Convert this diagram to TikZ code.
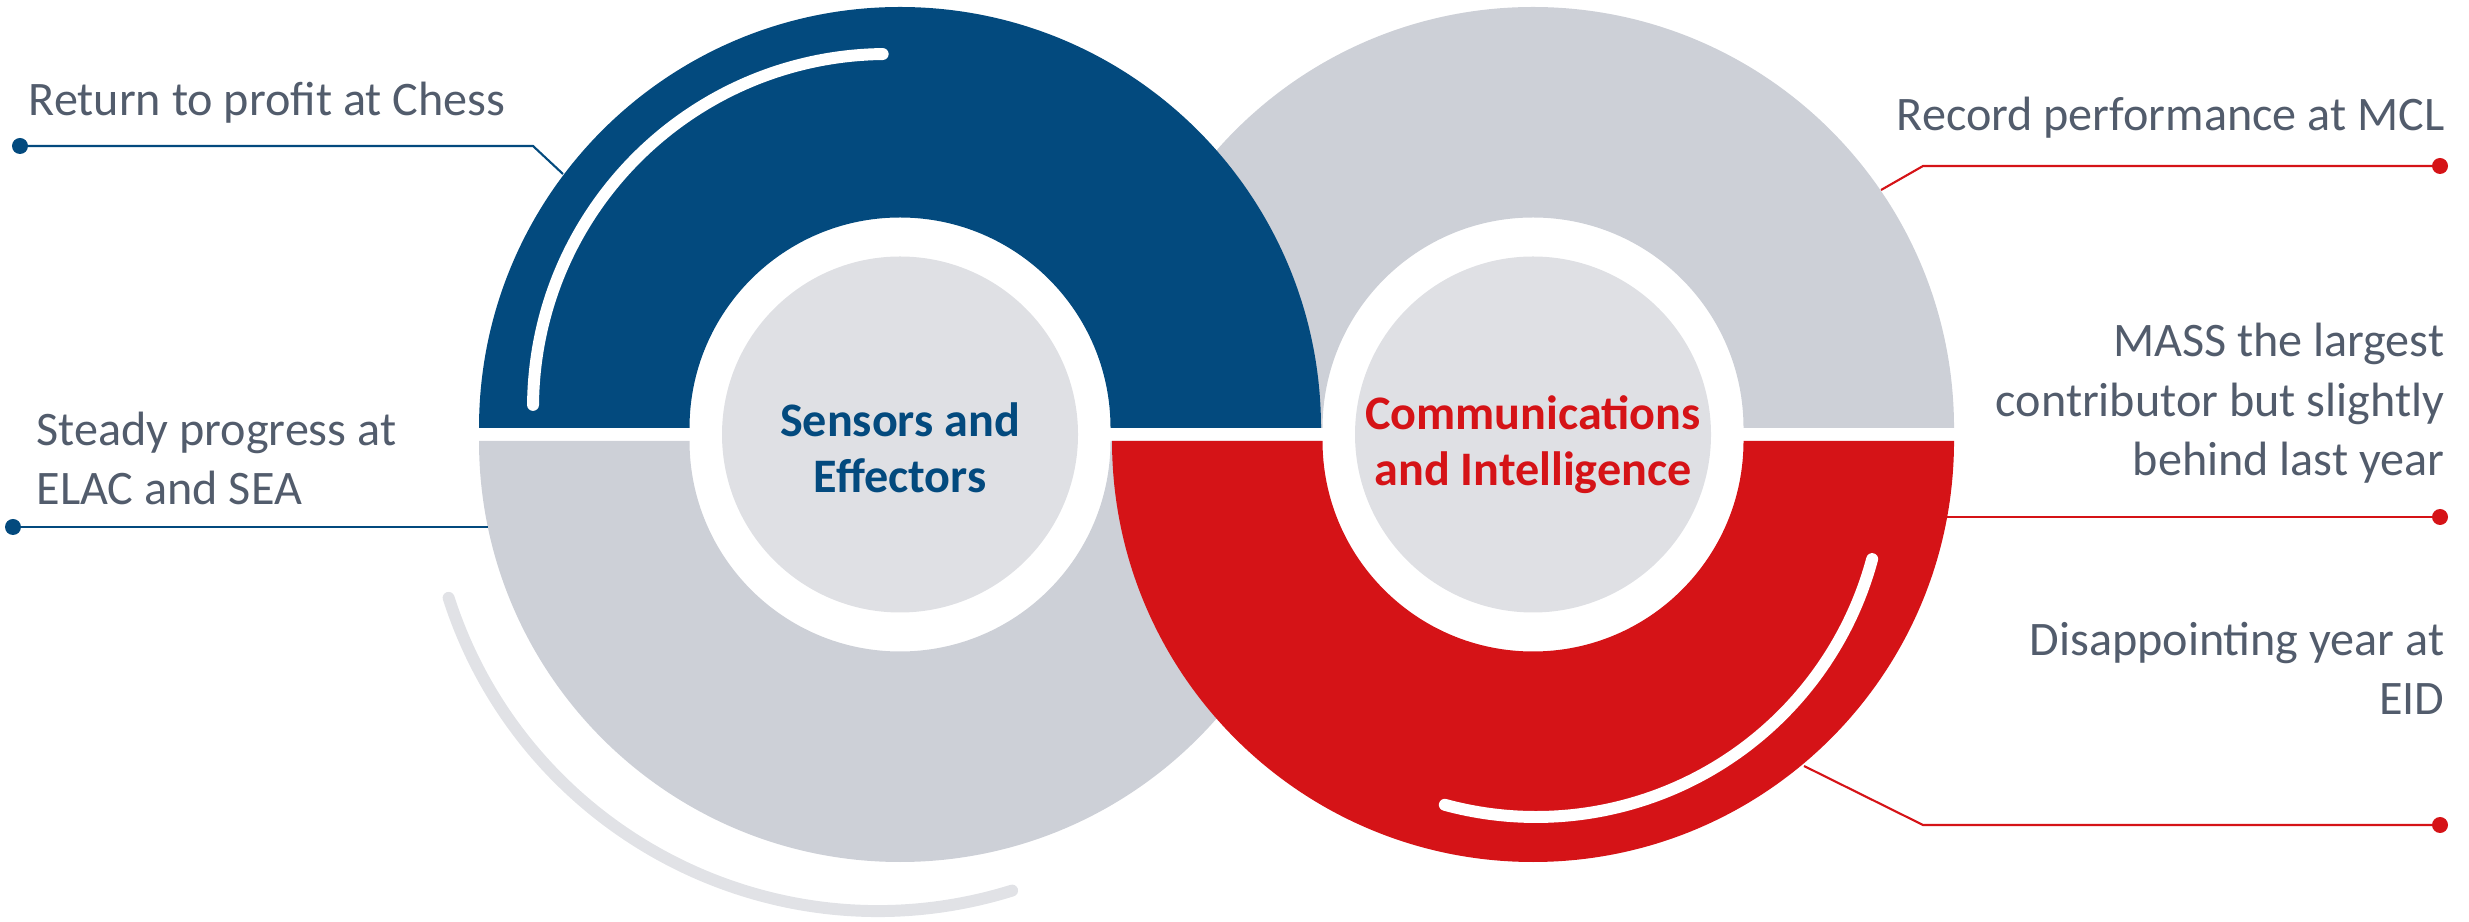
\documentclass[tikz,border=0pt]{standalone}
\usepackage{fontspec}
\setmainfont{Carlito}
\usetikzlibrary{calc}
\tikzset{
  label text/.style={font=\fontsize{13.7}{17}\selectfont, text=labelgrey, inner sep=0pt},
  core text/.style={font=\bfseries\fontsize{13.7}{15.9}\selectfont, align=center, inner sep=0pt},
  pin dot/.style={circle, inner sep=0pt, minimum size=1.6mm},
  pin line/.style={line width=0.6pt},
  swoosh/.style={line width=3.4pt, line cap=round},
}

\begin{document}
\begin{tikzpicture}
      \definecolor{sensblue}{RGB}{3,74,126}
      \definecolor{commred}{RGB}{213,19,23}
      \definecolor{ringgrey}{RGB}{205,208,215}
      \definecolor{coregrey}{RGB}{223,224,228}
      \definecolor{swooshgrey}{RGB}{225,226,230}
      \definecolor{labelgrey}{RGB}{82,92,108}
\useasboundingbox (0,0) rectangle (24.69,9.21);

% Centres of the two rings; upper and lower halves are pulled apart
% a little so that a thin white gap runs across both rings
\coordinate (seTop) at (9.00,4.93);
\coordinate (seBot) at (9.00,4.80);
\coordinate (ciTop) at (15.33,4.93);
\coordinate (ciBot) at (15.33,4.80);

% Grey halves first, the coloured halves are laid over them
\draw [draw=none, fill=ringgrey] ([shift={(180:4.21)}]seBot) arc[start angle=180, end angle=360, radius=4.21]
  -- ([shift={(0:2.105)}]seBot) arc[start angle=0, end angle=-180, radius=2.105] -- cycle;
\draw [draw=none, fill=ringgrey] ([shift={(180:4.21)}]ciTop) arc[start angle=180, end angle=0, radius=4.21]
  -- ([shift={(0:2.105)}]ciTop) arc[start angle=0, end angle=180, radius=2.105] -- cycle;

% Sensors and Effectors: upper half in blue
\draw [draw=none, fill=sensblue] ([shift={(180:4.21)}]seTop) arc[start angle=180, end angle=0, radius=4.21]
  -- ([shift={(0:2.105)}]seTop) arc[start angle=0, end angle=180, radius=2.105] -- cycle;
% Communications and Intelligence: lower half in red
\draw [draw=none, fill=commred] ([shift={(180:4.21)}]ciBot) arc[start angle=180, end angle=360, radius=4.21]
  -- ([shift={(0:2.105)}]ciBot) arc[start angle=0, end angle=-180, radius=2.105] -- cycle;

% Light core discs
\fill [coregrey] (9.00,4.865) circle (1.78);
\fill [coregrey] (15.33,4.865) circle (1.78);
\node [core text, text=sensblue] (sensors) at (9.00,4.73) {Sensors and\\Effectors};
\node [core text, text=commred] (comms) at (15.33,4.76) {Communications\\and Intelligence};

% Swooshes
\draw [swoosh, white] (8.87,5.13) ++(179.5:3.54) arc[start angle=179.5, end angle=90.7, radius=3.54];
\draw [swoosh, white] (15.36,4.52) ++(254.8:3.48) arc[start angle=254.8, end angle=345, radius=3.48];
\draw [swoosh, swooshgrey] (8.78,4.61) ++(197.8:4.51) arc[start angle=197.8, end angle=287.3, radius=4.51];

% Labels on the left (base of a multi-line node is its last line)
\node [label text, anchor=base west] (chess) at (0.28,8.05) {Return to profit at Chess};
\node [label text, anchor=base west, align=left] (elac) at (0.36,4.16) {Steady progress at\\ELAC and SEA};
% Labels on the right
\node [label text, anchor=base east] (mcl) at (24.45,7.90) {Record performance at MCL};
\node [label text, anchor=base east, align=right] (mass) at (24.45,4.45) {MASS the largest\\contributor but slightly\\behind last year};
\node [label text, anchor=base east, align=right] (eid) at (24.45,2.06) {Disappointing year at\\EID};

% Pointer lines
\node [pin dot, fill=sensblue] (chessDot) at (0.20,7.75) {};
\coordinate (chessKnee) at (5.33,7.75);
\coordinate (chessEnd) at (5.63,7.47);
\draw [pin line, sensblue] (chessDot.center) -- (chessKnee) -- (chessEnd);

\node [pin dot, fill=sensblue] (elacDot) at (0.13,3.94) {};
\coordinate (elacEnd) at (4.88,3.94);
\draw [pin line, sensblue] (elacDot.center) -- (elacEnd);

\node [pin dot, fill=commred] (mclDot) at (24.40,7.55) {};
\coordinate (mclKnee) at (19.23,7.55);
\coordinate (mclEnd) at (18.81,7.31);
\draw [pin line, commred] (mclDot.center) -- (mclKnee) -- (mclEnd);

\node [pin dot, fill=commred] (massDot) at (24.40,4.04) {};
\coordinate (massEnd) at (19.47,4.04);
\draw [pin line, commred] (massDot.center) -- (massEnd);

\node [pin dot, fill=commred] (eidDot) at (24.40,0.96) {};
\coordinate (eidKnee) at (19.23,0.96);
\coordinate (eidEnd) at (18.04,1.55);
\draw [pin line, commred] (eidDot.center) -- (eidKnee) -- (eidEnd);
\end{tikzpicture}
\end{document}
